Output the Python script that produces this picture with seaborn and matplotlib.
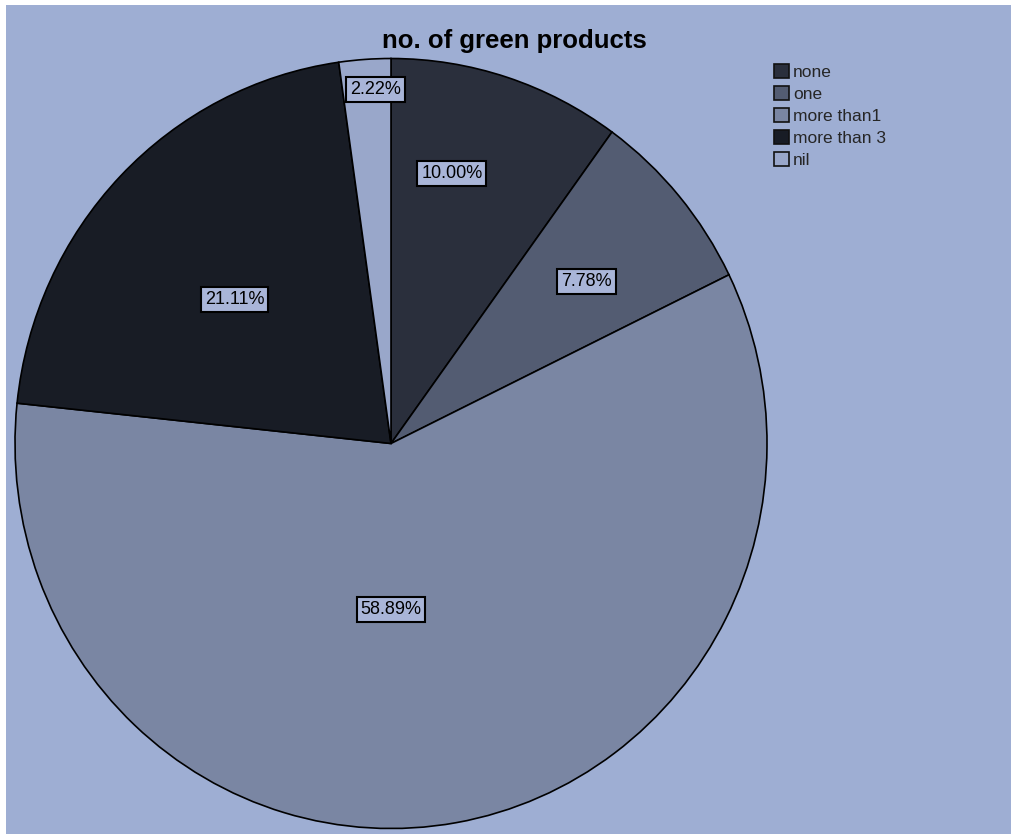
import numpy as np
import matplotlib
matplotlib.use("Agg")
import matplotlib.pyplot as plt
import matplotlib.patches as mpatches
import seaborn as sns

# Survey responses: number of green products owned
categories = ["none", "one", "more than1", "more than 3", "nil"]
percentages = [10.00, 7.78, 58.89, 21.11, 2.22]

slice_colors = ["#2a2f3c", "#535c72", "#7a86a3", "#181c25", "#99a7ca"]

# label placement: clockwise angle from 12 o'clock (deg) and fraction of radius
label_angle = [13, 51, 180, -48, -2.6]
label_radius = [0.72, 0.67, 0.43, 0.56, 0.92]

sns.set_theme(style="white")
plt.rcParams["font.family"] = ["Liberation Sans", "DejaVu Sans"]

W, H = 1011, 834
fig = plt.figure(figsize=(W / 100, H / 100), dpi=100, facecolor="white")

# panel background
bg = fig.add_axes([6 / W, 0, 1 - 6 / W, 1 - 5 / H])
bg.set_facecolor("#9eaed3")
bg.set_xticks([])
bg.set_yticks([])
for s in bg.spines.values():
    s.set_visible(False)

cx, cy, Rx, Ry = 391, 443.5, 376, 385
ax = fig.add_axes([(cx - Rx) / W, (H - cy - Ry) / H, 2 * Rx / W, 2 * Ry / H])
ax.set_facecolor("none")

wedges, _ = ax.pie(
    percentages,
    colors=slice_colors,
    startangle=90,
    counterclock=False,
    radius=1.0,
    wedgeprops=dict(edgecolor="black", linewidth=1.2),
)
ax.set_xlim(-1, 1)
ax.set_ylim(-1, 1)
ax.set_aspect("auto")
ax.axis("off")

for pct, a, rf in zip(percentages, label_angle, label_radius):
    t = np.deg2rad(a)
    ax.text(
        rf * np.sin(t), rf * np.cos(t), f"{pct:.2f}%",
        ha="center", va="center", fontsize=13, color="black",
        bbox=dict(boxstyle="square,pad=0.22", facecolor="#a9b5d8",
                  edgecolor="black", linewidth=1.5),
    )

fig.text(514 / W, 1 - 48 / H, "no. of green products", ha="center", va="baseline",
         fontsize=18.5, fontweight="bold", color="black")

handles = [mpatches.Patch(facecolor=c, edgecolor="#111111", linewidth=1.2, label=l)
           for c, l in zip(slice_colors, categories)]
fig.legend(
    handles=handles, loc="upper left", bbox_to_anchor=(762 / W, 1 - 52 / H),
    frameon=False, fontsize=12.5, handlelength=0.85, handleheight=0.85,
    handletextpad=0.25, labelspacing=0.35, borderpad=0.2,
)

fig.savefig("out.png", dpi=100, facecolor=fig.get_facecolor())
